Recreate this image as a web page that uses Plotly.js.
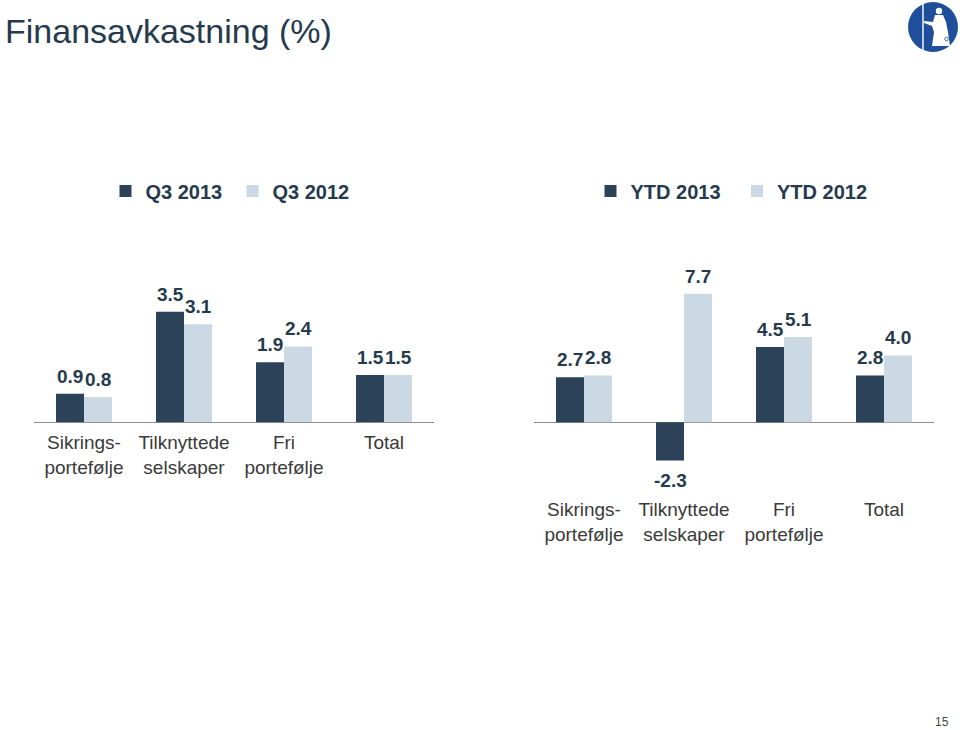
<!DOCTYPE html>
<html>
<head>
<meta charset="utf-8">
<script src="https://cdn.plot.ly/plotly-3.0.1.min.js"></script>
<style>html,body{margin:0;padding:0;background:#fff}#chart{width:960px;height:730px}</style>
</head>
<body>
<div id="chart"></div>
<script>
const categories = ["Sikrings-<br>portefølje", "Tilknyttede<br>selskaper", "Fri<br>portefølje", "Total"];
const q3_2013 = [0.9, 3.5, 1.9, 1.5];
const q3_2012 = [0.8, 3.1, 2.4, 1.5];
const ytd_2013 = [2.7, -2.3, 4.5, 2.8];
const ytd_2012 = [2.8, 7.7, 5.1, 4.0];
const seriesNames = ["Q3 2013", "Q3 2012", "YTD 2013", "YTD 2012"];

const W = 960, H = 730;
const DARK = '#2c4259', LIGHT = '#cbd9e5', TXT = '#263a4e';
const FONT = 'Arial, "Liberation Sans", sans-serif';

function bar(name, vals, color, xa, ya, lg) {
  return {type: 'bar', name: name, x: categories, y: vals, xaxis: xa, yaxis: ya,
    marker: {color: color}, legend: lg, hoverinfo: 'skip'};
}
const traces = [
  bar(seriesNames[0], q3_2013, DARK, 'x', 'y', 'legend'),
  bar(seriesNames[1], q3_2012, LIGHT, 'x', 'y', 'legend'),
  bar(seriesNames[2], ytd_2013, DARK, 'x2', 'y2', 'legend2'),
  bar(seriesNames[3], ytd_2012, LIGHT, 'x2', 'y2', 'legend2')
];

const annotations = [];
function addLabels(vals, xref, yref, shift) {
  vals.forEach((v, i) => {
    annotations.push({x: categories[i], y: v, xref: xref, yref: yref, xshift: shift,
      yanchor: v >= 0 ? 'bottom' : 'top', yshift: v >= 0 ? 5 : -7,
      text: v.toFixed(1), showarrow: false,
      font: {family: FONT, size: 19, color: TXT, weight: 'bold'}});
  });
}
addLabels(q3_2013, 'x', 'y', -14);
addLabels(q3_2012, 'x', 'y', 14);
addLabels(ytd_2013, 'x2', 'y2', -14);
addLabels(ytd_2012, 'x2', 'y2', 14);
annotations.push({x: 942/W, y: 1 - 722/H, xref: 'paper', yref: 'paper', showarrow: false,
  xanchor: 'center', yanchor: 'middle',
  text: '15', font: {family: FONT, size: 12, color: '#444'}});

const logoSvg = '<svg xmlns="http://www.w3.org/2000/svg" viewBox="0 0 50 50">' +
  '<circle cx="25" cy="25" r="25" fill="#1f4f9a"/>' +
  '<rect x="14.3" y="1" width="1.4" height="48" fill="#fff"/>' +
  '<circle cx="31" cy="9" r="3.2" fill="#fff"/>' +
  '<path d="M27 13 L35 13 L38 20 L40 30 L42 44 L24 44 L26 30 L24 24 L16 21 L16 19 L25 20 Z" fill="#fff"/>' +
  '<circle cx="38.5" cy="37" r="1.8" fill="none" stroke="#1f4f9a" stroke-width="0.8"/>' +
  '</svg>';

const axisX = {showgrid: false, ticks: '', showline: false, zeroline: false,
  ticklabelstandoff: 7,
  tickfont: {family: FONT, size: 19, color: '#3a3a3a'}, fixedrange: true};
const axisY = {showgrid: false, showticklabels: false, ticks: '', zeroline: true,
  zerolinecolor: '#8c8c8c', zerolinewidth: 1, showline: false, fixedrange: true};

const legendFont = {family: FONT, size: 20, color: TXT, weight: 'bold'};

const layout = {
  width: W, height: H, autosize: false,
  margin: {l: 0, r: 0, t: 0, b: 0, pad: 0},
  paper_bgcolor: '#fff', plot_bgcolor: 'rgba(0,0,0,0)',
  barmode: 'group', bargap: 0.44, bargroupgap: 0,
  title: {text: 'Finansavkastning (%)', x: 5/W, xanchor: 'left', xref: 'paper',
    y: 1 - 31/H, yref: 'container', yanchor: 'middle',
    font: {family: FONT, size: 34, color: '#263a4e'}},
  xaxis: Object.assign({}, axisX, {domain: [34/W, 434/W], anchor: 'y'}),
  yaxis: Object.assign({}, axisY, {domain: [1 - 422.3/H, 1 - 260/H], range: [0, (422.3-260)/31.6], anchor: 'x'}),
  xaxis2: Object.assign({}, axisX, {domain: [534/W, 934/W], anchor: 'y2'}),
  yaxis2: Object.assign({}, axisY, {domain: [1 - 489/H, 1 - 260/H], range: [-4.0, (422.3-260)/16.7], anchor: 'x2'}),
  legend: {orientation: 'h', x: 105.5/W, xanchor: 'left', y: 1 - 191/H, yanchor: 'middle',
    entrywidth: 82, entrywidthmode: 'pixels', bgcolor: 'rgba(0,0,0,0)', font: legendFont},
  legend2: {orientation: 'h', x: 590.5/W, xanchor: 'left', y: 1 - 191/H, yanchor: 'middle',
    entrywidth: 101.5, entrywidthmode: 'pixels', bgcolor: 'rgba(0,0,0,0)', font: legendFont},
  annotations: annotations,
  images: [{source: 'data:image/svg+xml;charset=utf-8,' + encodeURIComponent(logoSvg),
    xref: 'paper', yref: 'paper', x: 908/W, y: 1 - 2/H, sizex: 50/W, sizey: 50/H,
    xanchor: 'left', yanchor: 'top', sizing: 'stretch', layer: 'above'}]
};

Plotly.newPlot('chart', traces, layout, {displayModeBar: false, staticPlot: true});
</script>
</body>
</html>
